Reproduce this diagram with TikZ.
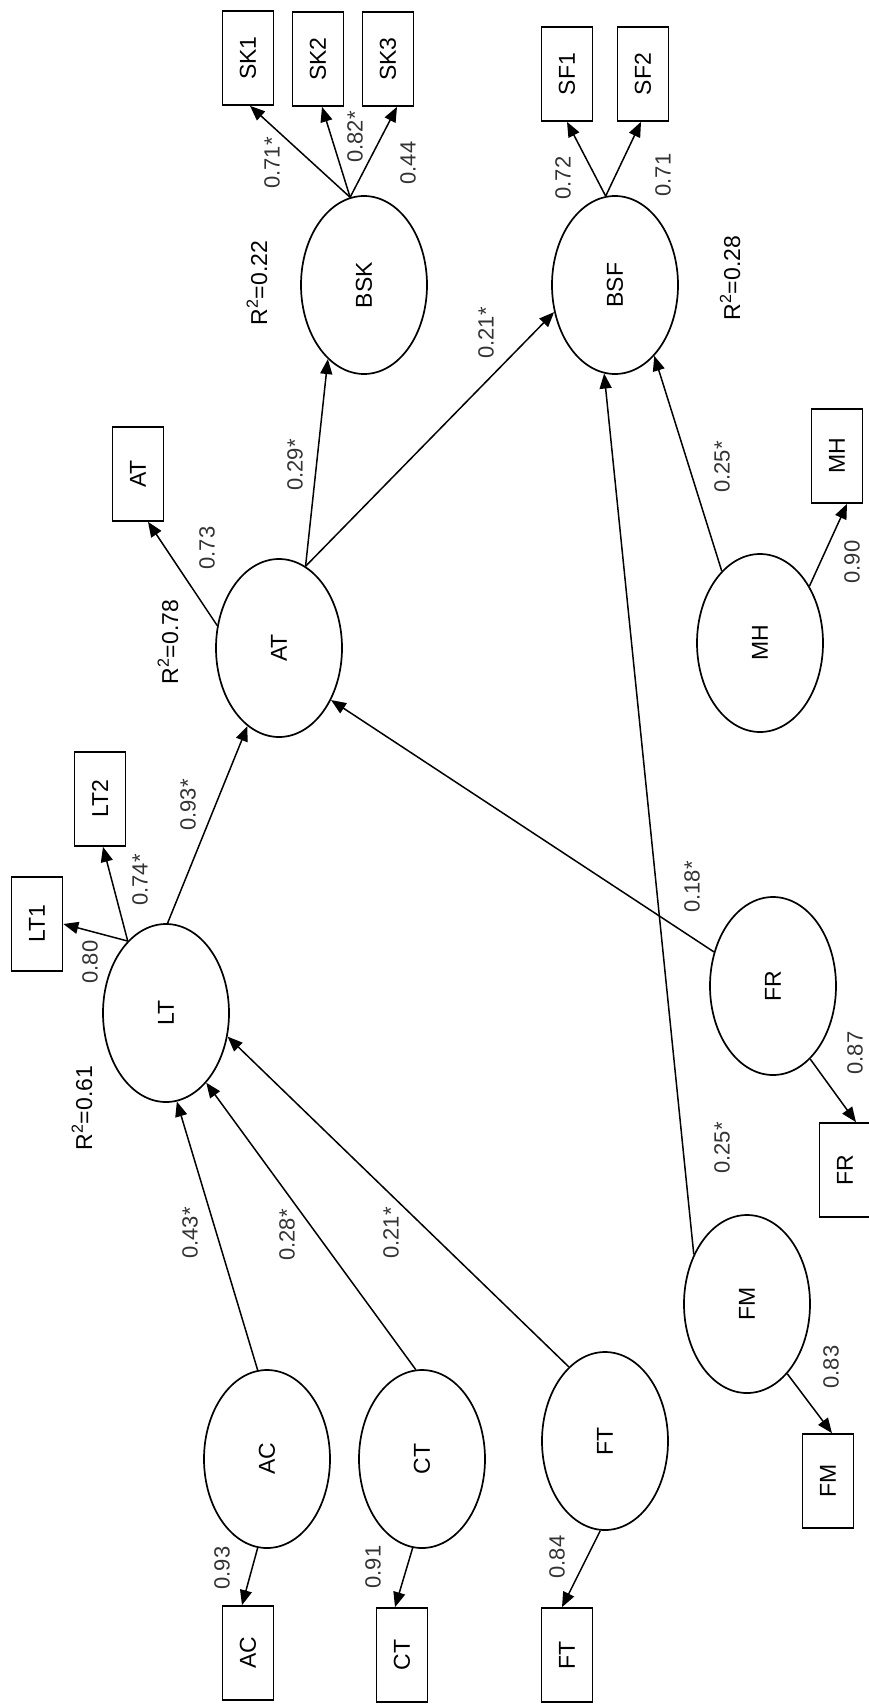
\documentclass[tikz,border=0pt]{standalone}
\usepackage{fontspec}
\setmainfont{Liberation Sans}
\usetikzlibrary{arrows.meta,shapes.geometric}
\newcommand\rtx[1]{\rotatebox{90}{#1}}
\begin{document}
\begin{tikzpicture}[x=1pt,y=-1pt,
  every node/.style={font=\fontsize{23}{27}\selectfont},
  lat/.style={draw,ellipse,line width=1.7pt,minimum width=126pt,minimum height=178pt,inner sep=0pt},
  obs/.style={draw,rectangle,line width=1.7pt,minimum width=51pt,minimum height=94pt,inner sep=0pt},
  coef/.style={rotate=90,inner sep=0pt,text=black!80,font=\fontsize{22}{26}\selectfont},
  rsq/.style={rotate=90,inner sep=0pt},
  arr/.style={line width=1.5pt,-{Triangle[length=15pt,width=12pt]}}]
\useasboundingbox (0,0) rectangle (868,1704);
% latent variables
\node[lat] (bsk) at (364,285) {\rtx{BSK}};
\node[lat] (bsf) at (615,285) {\rtx{BSF}};
\node[lat] (atl) at (279,648) {\rtx{AT}};
\node[lat] (mhl) at (760,643) {\rtx{MH}};
\node[lat] (ltl) at (166,1013) {\rtx{LT}};
\node[lat] (frl) at (773,986) {\rtx{FR}};
\node[lat] (fml) at (747,1304) {\rtx{FM}};
\node[lat] (acl) at (267,1459) {\rtx{AC}};
\node[lat] (ctl) at (422,1459) {\rtx{CT}};
\node[lat] (ftl) at (605,1441) {\rtx{FT}};
% observed variables
\node[obs] (sk1) at (248,58) {\rtx{SK1}};
\node[obs] (sk2) at (318,59) {\rtx{SK2}};
\node[obs] (sk3) at (388,59) {\rtx{SK3}};
\node[obs] (sf1) at (567,74) {\rtx{SF1}};
\node[obs] (sf2) at (643,74) {\rtx{SF2}};
\node[obs] (atb) at (138,474) {\rtx{AT}};
\node[obs] (mhb) at (837,456) {\rtx{MH}};
\node[obs] (lt2) at (100,799) {\rtx{LT2}};
\node[obs] (lt1) at (37,924) {\rtx{LT1}};
\node[obs] (frb) at (845,1170) {\rtx{FR}};
\node[obs] (fmb) at (828,1481) {\rtx{FM}};
\node[obs] (acb) at (248,1653) {\rtx{AC}};
\node[obs] (ctb) at (402,1655) {\rtx{CT}};
\node[obs] (ftb) at (567,1655) {\rtx{FT}};
% measurement arrows
\draw[arr] (bsk.99) -- ([xshift=2pt]sk1.south);
\draw[arr] (bsk.99) -- ([xshift=4pt]sk2.south);
\draw[arr] (bsk.99) -- ([xshift=9pt]sk3.south);
\draw[arr] (bsf.96) -- (sf1.south);
\draw[arr] (bsf.96) -- ([xshift=-2pt]sf2.south);
\draw[arr] (atl.160) -- ([xshift=10pt]atb.south);
\draw[arr] (mhl.49) -- ([xshift=10pt]mhb.south);
\draw[arr] (ltl.118) -- (lt1.east);
\draw[arr] (ltl.118) -- ([xshift=3pt]lt2.south);
\draw[arr] (frl.297) -- ([xshift=11pt]frb.north);
\draw[arr] (fml.300) -- ([xshift=4pt]fmb.north);
\draw[arr] (acl.264) -- ([xshift=-6pt]acb.north);
\draw[arr] (ctl.264) -- ([xshift=-7pt]ctb.north);
\draw[arr] (ftl.267) -- ([xshift=-5pt]ftb.north);
% structural arrows
\draw[arr] (atl.72) -- (bsk.244);
\draw[arr] (atl.72) -- (bsf.204);
\draw[arr] (ltl.89) -- (atl.248);
\draw[arr] (acl.96) -- (ltl.277);
\draw[arr] (ctl.94) -- (ltl.300);
\draw[arr] (ftl.116) -- (ltl.339);
\draw[arr] (frl.150) -- (atl.315);
\draw[arr] (fml.137) -- (bsf.263);
\draw[arr] (mhl.118) -- (bsf.299);
% coefficients
\node[coef] (c1) at (272,163) {0.71*};
\node[coef] (c2) at (355,137) {0.82*};
\node[coef] (c3) at (408,163) {0.44};
\node[rsq] (r1) at (257,283) {R\textsuperscript{2}=0.22};
\node[coef] (c4) at (563,178) {0.72};
\node[coef] (c5) at (663,175) {0.71};
\node[rsq] (r2) at (730,278) {R\textsuperscript{2}=0.28};
\node[coef] (c6) at (486,333) {0.21*};
\node[coef] (c7) at (207,548) {0.73};
\node[rsq] (r3) at (168,642) {R\textsuperscript{2}=0.78};
\node[coef] (c8) at (295,465) {0.29*};
\node[coef] (c9) at (188,805) {0.93*};
\node[coef] (c10) at (140,880) {0.74*};
\node[coef] (c11) at (90,962) {0.80};
\node[rsq] (r4) at (82,1108) {R\textsuperscript{2}=0.61};
\node[coef] (c12) at (190,1233) {0.43*};
\node[coef] (c13) at (287,1235) {0.28*};
\node[coef] (c14) at (391,1233) {0.21*};
\node[coef] (c15) at (222,1568) {0.93};
\node[coef] (c16) at (373,1567) {0.91};
\node[coef] (c17) at (557,1557) {0.84};
\node[coef] (c18) at (831,1367) {0.83};
\node[coef] (c19) at (855,1053) {0.87};
\node[coef] (c20) at (722,1148) {0.25*};
\node[coef] (c21) at (692,887) {0.18*};
\node[coef] (c22) at (852,562) {0.90};
\node[coef] (c23) at (722,467) {0.25*};
\end{tikzpicture}
\end{document}
